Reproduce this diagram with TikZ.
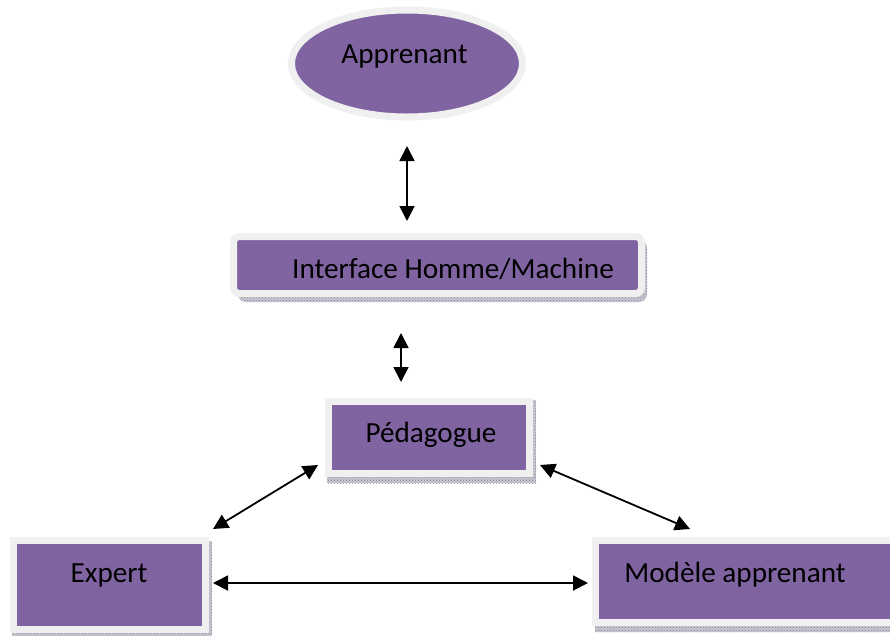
\documentclass[tikz,border=0pt]{standalone}
\usepackage{fontspec}
\setmainfont{Carlito}
\usetikzlibrary{arrows.meta,shapes.geometric,patterns}

\definecolor{boxfill}{HTML}{8064A2}
\definecolor{boxrim}{HTML}{F0F0F0}
\definecolor{shadefill}{HTML}{C9C5D0}
\definecolor{shadedots}{HTML}{8A8594}

\tikzset{
  box/.style={rectangle, draw=boxrim, line width=7pt, fill=boxfill,
    inner sep=0pt, outer sep=0pt},
  oval/.style={ellipse, draw=boxrim, line width=7pt, fill=boxfill,
    inner sep=0pt, outer sep=0pt},
  shade/.style={fill=shadefill, draw=none},
  shadedots/.style={pattern=crosshatch dots, pattern color=shadedots, draw=none},
  lbl/.style={anchor=base, inner sep=0pt, font=\fontsize{29.2}{34}\selectfont, text=black},
  link/.style={line width=1.8pt, {Triangle[length=15pt,width=15pt]}-{Triangle[length=15pt,width=15pt]}},
}

\begin{document}
\begin{tikzpicture}[x=1pt,y=-1pt]
\useasboundingbox (0,0) rectangle (890,635);
\clip (0,0) rectangle (890,635);
\fill[white] (0,0) rectangle (890,635);

% hatched drop shadows under the boxes
\foreach \sty in {shade,shadedots}{
  \path[\sty, rounded corners=8pt] (238,240) rectangle (647,302);
  \path[\sty] (327,400) rectangle (536,483);
  \path[\sty] (12,541) rectangle (212,645);
  \path[\sty] (595,541) rectangle (900,632);
}

% boxes
\node[oval, minimum width=231, minimum height=107] (apprenant) at (407,63.5) {};
\node[box, rounded corners=6pt, minimum width=408, minimum height=57] (ihm) at (437.5,265) {};
\node[box, minimum width=201, minimum height=72] (pedagogue) at (429,437.5) {};
\node[box, minimum width=192, minimum height=89] (expert) at (109.5,585) {};
\node[box, minimum width=310, minimum height=82] (modele) at (750.5,581.5) {};

% labels
\node[lbl] (tApprenant) at (404.5,63) {Apprenant};
\node[lbl] (tIhm) at (453,278) {Interface Homme/Machine};
\node[lbl] (tPedagogue) at (431,442) {Pédagogue};
\node[lbl] (tExpert) at (109,582) {Expert};
\node[lbl] (tModele) at (735,582) {Modèle apprenant};

% connector end points
\coordinate (a1s) at (407,146);  \coordinate (a1e) at (407,221);
\coordinate (a2s) at (401,333);  \coordinate (a2e) at (401,382);
\coordinate (a3s) at (318,465);  \coordinate (a3e) at (213,529);
\coordinate (a4s) at (540,465);  \coordinate (a4e) at (690,529);
\coordinate (a5s) at (213,583);  \coordinate (a5e) at (588,583);

% connectors
\draw[link] (a1s) -- (a1e);
\draw[link] (a2s) -- (a2e);
\draw[link] (a3s) -- (a3e);
\draw[link] (a4s) -- (a4e);
\draw[link] (a5s) -- (a5e);
\end{tikzpicture}
\end{document}
